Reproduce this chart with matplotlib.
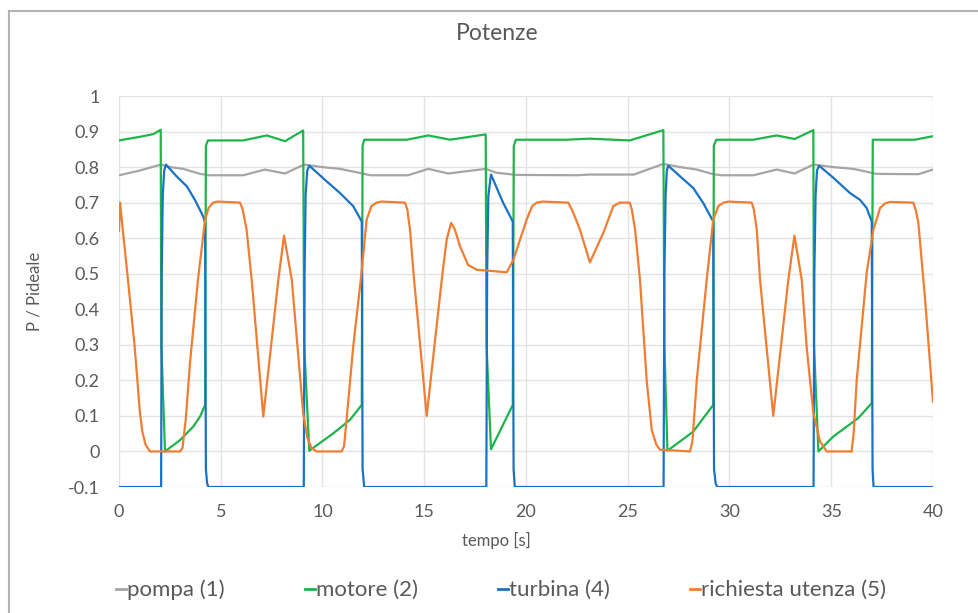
import numpy as np
import matplotlib
matplotlib.use("Agg")
import matplotlib.pyplot as plt
from matplotlib.lines import Line2D
from matplotlib.ticker import FuncFormatter, MultipleLocator

plt.rcParams['font.family'] = ['Lato', 'DejaVu Sans']
plt.rcParams['axes.unicode_minus'] = False

# --- data ---
t_pompa = [0, 1.0, 2.05, 2.5, 3.16, 3.98, 4.45, 6.1, 7.17, 8.16, 9.09, 10.0, 10.86,
           12.05, 12.36, 14.2, 15.2, 16.18, 18.02, 18.55, 19.54, 22.5, 23.1, 25.3,
           26.75, 27.57, 28.39, 29.2, 29.6, 31.17, 32.32, 33.2, 34.12, 35.1, 36.08,
           37.23, 39.28, 40]
pompa = [0.777, 0.79, 0.807, 0.80, 0.795, 0.781, 0.777, 0.777, 0.793, 0.782, 0.807,
         0.80, 0.795, 0.781, 0.777, 0.777, 0.795, 0.782, 0.795, 0.784, 0.778, 0.777,
         0.779, 0.779, 0.809, 0.80, 0.793, 0.78, 0.777, 0.777, 0.793, 0.782, 0.807,
         0.80, 0.795, 0.781, 0.78, 0.793]

t_motore = [0, 1.1, 1.7, 2.05, 2.08, 2.26, 3.0, 3.65, 4.0, 4.23, 4.27, 4.37, 6.1,
            7.26, 8.16, 9.05, 9.1, 9.35, 10.53, 11.35, 11.93, 11.97, 12.05, 14.14,
            15.2, 16.27, 18.02, 18.06, 18.28, 19.35, 19.4, 19.5, 22.0, 23.1, 25.1,
            26.75, 26.8, 26.95, 28.22, 29.2, 29.23, 29.35, 31.17, 32.32, 33.2, 34.12,
            34.15, 34.37, 35.1, 36.33, 36.99, 37.04, 39.11, 40]
motore = [0.875, 0.886, 0.893, 0.905, 0.3, 0.0, 0.032, 0.07, 0.1, 0.131, 0.86, 0.875,
          0.875, 0.889, 0.873, 0.903, 0.3, 0.002, 0.051, 0.089, 0.131, 0.86, 0.877,
          0.877, 0.889, 0.877, 0.892, 0.3, 0.006, 0.131, 0.86, 0.877, 0.877, 0.88,
          0.875, 0.904, 0.3, 0.002, 0.056, 0.131, 0.86, 0.877, 0.877, 0.889, 0.879,
          0.904, 0.3, 0.0, 0.042, 0.094, 0.136, 0.877, 0.877, 0.887]

t_turbina = [0, 2.07, 2.10, 2.15, 2.22, 2.31, 2.83, 3.33, 3.73, 4.14, 4.23, 4.27, 4.33,
             4.4, 9.08, 9.12, 9.17, 9.25, 9.35, 10.2, 10.86, 11.51, 11.93, 11.97,
             12.05, 18.05, 18.09, 18.15, 18.28, 18.88, 19.35, 19.39, 19.45, 26.76,
             26.8, 26.86, 26.92, 26.99, 27.57, 28.22, 28.71, 29.2, 29.24, 29.32, 29.4,
             34.13, 34.17, 34.23, 34.3, 34.4, 35.1, 35.92, 36.41, 36.74, 36.99, 37.03,
             37.08, 40]
turbina = [-0.1, -0.1, 0.5, 0.72, 0.79, 0.807, 0.774, 0.746, 0.708, 0.661, 0.643, -0.05,
           -0.09, -0.1, -0.1, 0.5, 0.72, 0.79, 0.804, 0.76, 0.727, 0.69, 0.647, -0.05,
           -0.1, -0.1, 0.5, 0.72, 0.779, 0.699, 0.647, -0.05, -0.1, -0.1, 0.5, 0.72,
           0.79, 0.804, 0.774, 0.741, 0.699, 0.647, -0.05, -0.09, -0.1, -0.1, 0.5,
           0.72, 0.79, 0.804, 0.77, 0.727, 0.708, 0.685, 0.647, -0.05, -0.1, -0.1]

t_utenza = [0, 0.05, 0.12, 0.44, 0.77, 1.03, 1.15, 1.3, 1.52, 3.0, 3.12, 3.28, 3.49,
            3.88, 4.23, 4.4, 4.62, 4.85, 5.95, 6.08, 6.27, 6.52, 7.09, 7.83, 8.11,
            8.49, 9.05, 9.25, 9.45, 9.71, 10.94, 11.06, 11.2, 11.51, 11.88, 12.17,
            12.4, 12.66, 12.9, 14.05, 14.17, 14.3, 14.5, 15.12, 15.86, 16.1, 16.32,
            16.5, 16.76, 17.15, 17.58, 18.07, 19.05, 19.38, 20.03, 20.3, 20.53, 20.8,
            22.08, 22.3, 22.65, 23.14, 23.8, 24.29, 24.6, 25.1, 25.2, 25.36, 25.6,
            25.93, 26.18, 26.4, 26.58, 28.06, 28.18, 28.39, 28.88, 29.2, 29.45, 29.7,
            29.95, 31.09, 31.2, 31.34, 31.5, 32.15, 32.89, 33.19, 33.55, 33.79, 34.12,
            34.45, 34.78, 36.0, 36.1, 36.25, 36.74, 37.07, 37.4, 37.65, 37.89, 39.03,
            39.15, 39.28, 39.6, 40]
utenza = [0.62, 0.70, 0.66, 0.483, 0.295, 0.108, 0.055, 0.02, 0.0, 0.0, 0.01, 0.09,
          0.25, 0.483, 0.652, 0.685, 0.70, 0.703, 0.70, 0.68, 0.624, 0.483, 0.098,
          0.483, 0.607, 0.483, 0.108, 0.04, 0.01, 0.0, 0.0, 0.015, 0.1, 0.295, 0.483,
          0.652, 0.69, 0.70, 0.703, 0.70, 0.68, 0.624, 0.483, 0.10, 0.483, 0.596,
          0.643, 0.625, 0.577, 0.525, 0.511, 0.509, 0.504, 0.539, 0.652, 0.69, 0.70,
          0.703, 0.70, 0.675, 0.624, 0.532, 0.615, 0.69, 0.70, 0.70, 0.68, 0.624,
          0.483, 0.2, 0.06, 0.02, 0.005, 0.0, 0.03, 0.2, 0.483, 0.652, 0.69, 0.70,
          0.703, 0.70, 0.68, 0.624, 0.483, 0.10, 0.483, 0.607, 0.483, 0.295, 0.108,
          0.028, 0.0, 0.0, 0.05, 0.2, 0.502, 0.624, 0.685, 0.698, 0.702, 0.70, 0.68,
          0.643, 0.436, 0.14]

labels = ['pompa (1)', 'motore (2)', 'turbina (4)', 'richiesta utenza (5)']
colors = ['#a5a5a5', '#1db44c', '#1a72c4', '#f07d31']
txt = '#595959'

fig = plt.figure(figsize=(9.79, 6.13), dpi=100)
W, H = 979, 613
ax = fig.add_axes([119 / W, 1 - 487 / H, (933 - 119) / W, (487 - 96) / H])

series = [(t_pompa, pompa), (t_motore, motore), (t_turbina, turbina), (t_utenza, utenza)]
for (t, v), lab, c in zip(series, labels, colors):
    ax.plot(t, v, color=c, lw=1.6, label=lab, solid_joinstyle='round')

ax.set_xlim(0, 40)
ax.set_ylim(-0.1, 1)
ax.xaxis.set_major_locator(MultipleLocator(5))
ax.yaxis.set_major_locator(MultipleLocator(0.1))
ax.yaxis.set_major_formatter(FuncFormatter(lambda v, p: f"{round(v, 2):g}"))
ax.grid(True, color='#e3e3e3', lw=1)
ax.set_axisbelow(True)
for s in ax.spines.values():
    s.set_visible(False)
ax.tick_params(length=0, labelsize=13, labelcolor=txt)
ax.tick_params(axis='y', pad=14)
ax.tick_params(axis='x', pad=12)

fig.text(497 / W, 1 - 33 / H, 'Potenze', ha='center', va='center', fontsize=16.5, color=txt)
fig.text(496 / W, 1 - 540 / H, 'tempo [s]', ha='center', va='center', fontsize=12, color=txt)
fig.text(35 / W, 1 - 291 / H, 'P / Pideale', ha='center', va='center', rotation=90,
         fontsize=12, color=txt)

handles = [Line2D([], [], color=c, lw=2) for c in colors]
fig.legend(handles, labels, loc='center', bbox_to_anchor=(501 / W, 1 - 590 / H), ncol=4,
           frameon=False, fontsize=16, handlelength=0.45, handletextpad=0.05,
           columnspacing=3.6, labelcolor=txt)

# outer chart border (left and top visible)
fig.add_artist(Line2D([9 / W, 9 / W], [0, 1 - 11 / H], color='#b3b3b3', lw=1.5))
fig.add_artist(Line2D([9 / W, 1], [1 - 11 / H, 1 - 11 / H], color='#b3b3b3', lw=1.5))

fig.savefig('out.png', dpi=100)
